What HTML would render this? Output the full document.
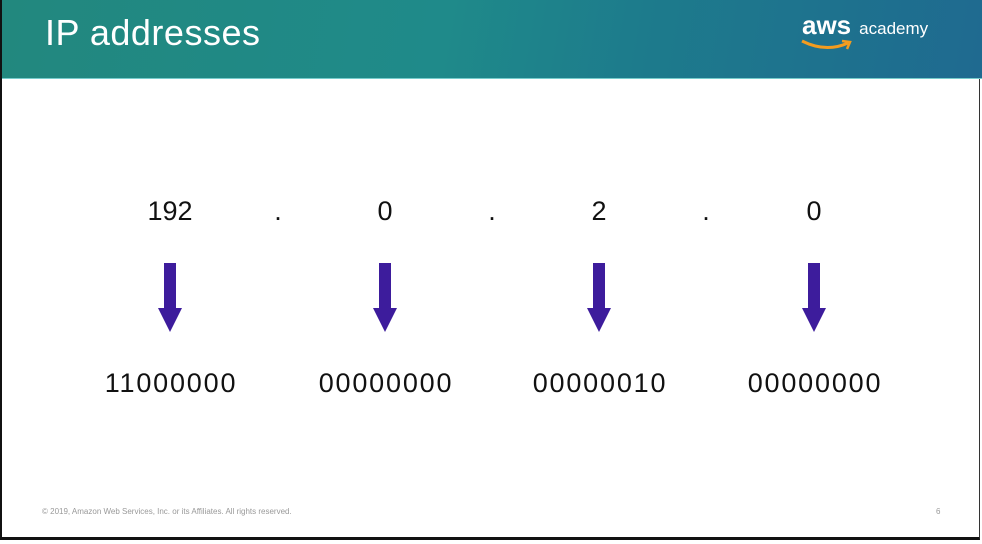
<!DOCTYPE html>
<html><head><meta charset="utf-8"><style>
body{margin:0;width:982px;height:544px;overflow:hidden;background:#fff;font-family:"Liberation Sans",sans-serif;}
#frame{position:absolute;left:0;top:0;width:980px;height:540px;border-left:2px solid #111;border-bottom:3px solid #111;border-right:1px solid #333;box-sizing:border-box;}
#header{position:absolute;left:2px;top:0;width:980px;height:78px;background:linear-gradient(100deg,#22887e 0%,#1f8a8a 45%,#1d7b8c 65%,#1f6a90 100%);border-bottom:1px solid #7cc;}
#title{position:absolute;left:43px;top:12px;color:#fff;font-size:36px;font-weight:300;letter-spacing:0.5px;}
.t{position:absolute;font-size:27px;color:#111;transform:translateX(-50%);white-space:nowrap;}
.b{letter-spacing:1.8px;}
#footer{position:absolute;left:42px;top:507px;font-size:8px;color:#999;}
</style></head><body>
<div id="frame"></div>
<div id="header">
<div id="title">IP addresses</div>
<div style="position:absolute;left:800px;top:10px;color:#fff;">
<span style="font-size:26px;font-weight:bold;">aws</span><span style="font-size:17px;margin-left:8px;">academy</span>
<svg width="60" height="16" style="position:absolute;left:-2px;top:28px"><path d="M2 3 Q26 15 48 5" stroke="#f39c1f" stroke-width="3" fill="none"/><path d="M42 3 L50 4 L47 11" stroke="#f39c1f" stroke-width="2.5" fill="none"/></svg>
</div>
</div>
<svg width="982" height="544" style="position:absolute;left:0;top:0">
<g fill="#3d1c9c">
<g><rect x="164" y="263" width="12" height="46"/><polygon points="158,308 182,308 170,332"/></g>
<g><rect x="379" y="263" width="12" height="46"/><polygon points="373,308 397,308 385,332"/></g>
<g><rect x="593" y="263" width="12" height="46"/><polygon points="587,308 611,308 599,332"/></g>
<g><rect x="808" y="263" width="12" height="46"/><polygon points="802,308 826,308 814,332"/></g>
</g></svg>
<div class="t" style="left:170px;top:196px">192</div>
<div class="t" style="left:278px;top:196px">.</div>
<div class="t" style="left:385px;top:196px">0</div>
<div class="t" style="left:492px;top:196px">.</div>
<div class="t" style="left:599px;top:196px">2</div>
<div class="t" style="left:706px;top:196px">.</div>
<div class="t" style="left:814px;top:196px">0</div>
<div class="t b" style="left:171px;top:368px">11000000</div>
<div class="t b" style="left:386px;top:368px">00000000</div>
<div class="t b" style="left:600px;top:368px">00000010</div>
<div class="t b" style="left:815px;top:368px">00000000</div>
<div id="footer">© 2019, Amazon Web Services, Inc. or its Affiliates. All rights reserved.</div>
<div style="position:absolute;left:936px;top:507px;font-size:8px;color:#999">6</div>
</body></html>
